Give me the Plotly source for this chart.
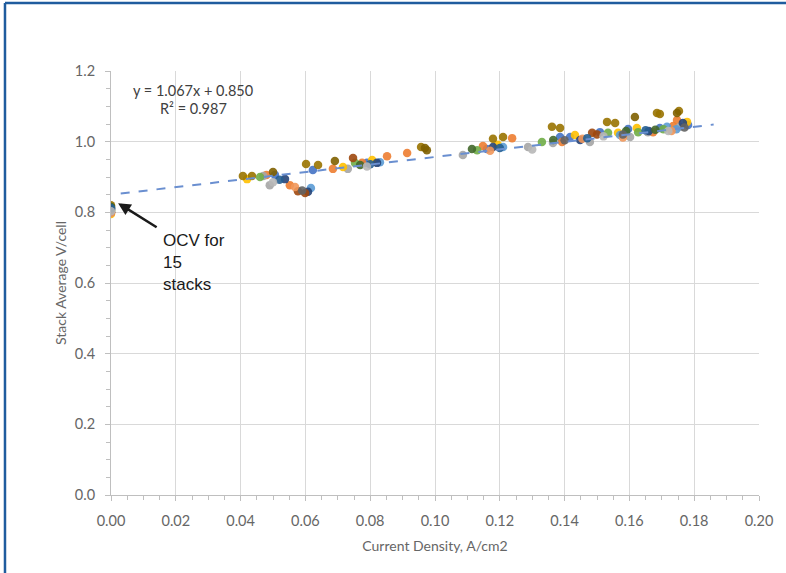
import plotly.graph_objects as go

# ---------------- data ----------------
series_names = [f"Stack {i}" for i in range(1, 16)]
series_colors = ["#4472C4", "#ED7D31", "#A5A5A5", "#FFC000", "#5B9BD5",
                 "#70AD47", "#264478", "#9E480E", "#997300", "#7F6000",
                 "#43682B", "#F1975A", "#636363", "#255E91", "#B7B7B7"]

s1_x = [0.0, 0.0506, 0.0623, 0.079, 0.116, 0.1386, 0.1417, 0.1509, 0.1596, 0.1694, 0.1781]
s1_y = [0.810, 0.906, 0.920, 0.940, 0.979, 1.013, 1.013, 1.027, 1.036, 1.039, 1.047]
s2_x = [0.0, 0.048, 0.0552, 0.0685, 0.0775, 0.0852, 0.0914, 0.1148, 0.1238, 0.1392, 0.1673, 0.1735, 0.1747]
s2_y = [0.800, 0.906, 0.877, 0.923, 0.940, 0.959, 0.968, 0.988, 1.010, 0.999, 1.027, 1.044, 1.061]
s3_x = [0.0, 0.047, 0.049, 0.0731, 0.1086, 0.1287, 0.1364, 0.1478, 0.1602, 0.1657, 0.1756]
s3_y = [0.805, 0.903, 0.877, 0.923, 0.962, 0.985, 0.996, 0.999, 1.013, 1.027, 1.042]
s4_x = [0.0, 0.042, 0.0716, 0.0806, 0.1194, 0.1432, 0.1565, 0.1623, 0.1778]
s4_y = [0.795, 0.894, 0.928, 0.948, 0.991, 1.019, 1.025, 1.039, 1.056]
s5_x = [0.0, 0.0617, 0.083, 0.121, 0.1571, 0.1716, 0.1745]
s5_y = [0.800, 0.869, 0.942, 0.985, 1.019, 1.042, 1.035]
s6_x = [0.0, 0.046, 0.0753, 0.113, 0.133, 0.1534, 0.1627, 0.1705]
s6_y = [0.805, 0.900, 0.940, 0.976, 0.999, 1.025, 1.027, 1.035]
s7_x = [0.0, 0.0537, 0.0608, 0.0821, 0.1179, 0.1448, 0.1765, 0.1660]
s7_y = [0.810, 0.894, 0.858, 0.940, 0.985, 1.005, 1.053, 1.030]
s8_x = [0.0, 0.0577, 0.0599, 0.0747, 0.1485, 0.1500]
s8_y = [0.800, 0.860, 0.855, 0.954, 1.025, 1.020]
s9_x = [0.0, 0.0407, 0.0435, 0.0602, 0.0639, 0.0957, 0.1179, 0.121, 0.1361, 0.1386, 0.1531, 0.1556, 0.1685, 0.1694, 0.1753]
s9_y = [0.820, 0.903, 0.903, 0.937, 0.934, 0.985, 1.008, 1.013, 1.042, 1.039, 1.056, 1.053, 1.081, 1.078, 1.087]
s10_x = [0.0, 0.050, 0.0691, 0.0969, 0.0975, 0.1617, 0.1747]
s10_y = [0.815, 0.914, 0.945, 0.982, 0.976, 1.070, 1.081]
s11_x = [0.0, 0.0769, 0.1114, 0.1365, 0.1590, 0.1680]
s11_y = [0.815, 0.934, 0.979, 1.005, 1.030, 1.034]
s12_x = [0.0, 0.0568, 0.117, 0.1455, 0.1580, 0.1730]
s12_y = [0.798, 0.872, 0.974, 1.008, 1.012, 1.030]
s13_x = [0.0, 0.0590, 0.1400, 0.1580, 0.1770]
s13_y = [0.808, 0.862, 1.004, 1.020, 1.040]
s14_x = [0.0, 0.0520, 0.0800, 0.1200, 0.1470, 0.1650]
s14_y = [0.812, 0.892, 0.936, 0.982, 1.010, 1.032]
s15_x = [0.0, 0.0500, 0.0790, 0.1300, 0.1520, 0.1720]
s15_y = [0.803, 0.885, 0.930, 0.978, 1.015, 1.030]

series_x = [s1_x, s2_x, s3_x, s4_x, s5_x, s6_x, s7_x, s8_x, s9_x, s10_x, s11_x, s12_x, s13_x, s14_x, s15_x]
series_y = [s1_y, s2_y, s3_y, s4_y, s5_y, s6_y, s7_y, s8_y, s9_y, s10_y, s11_y, s12_y, s13_y, s14_y, s15_y]

trend_slope = 1.067
trend_intercept = 0.850
trend_r2 = 0.987
trend_x = [0.003, 0.186]
trend_y = [trend_slope * v + trend_intercept for v in trend_x]

x_ticks = [0.00, 0.02, 0.04, 0.06, 0.08, 0.10, 0.12, 0.14, 0.16, 0.18, 0.20]
y_ticks = [0.0, 0.2, 0.4, 0.6, 0.8, 1.0, 1.2]

# ---------------- figure ----------------
fig = go.Figure()
for name, color, xs, ys in zip(series_names, series_colors, series_x, series_y):
    fig.add_trace(go.Scatter(x=xs, y=ys, mode="markers", name=name,
                             marker=dict(color=color, size=8.5, opacity=0.9,
                                         line=dict(width=0))))

fig.add_trace(go.Scatter(x=trend_x, y=trend_y, mode="lines", name="Linear",
                         line=dict(color="#6A8FD0", width=2, dash="dash")))

FAM = "Lato, Carlito, 'Open Sans', sans-serif"
tick_font = dict(family=FAM, size=14.5, color="#666666")
title_font = dict(family=FAM, size=14, color="#666666")

fig.update_layout(
    width=786, height=573,
    margin=dict(l=111, r=27, t=71, b=78),
    paper_bgcolor="white", plot_bgcolor="white",
    showlegend=False,
    xaxis=dict(range=[0, 0.2], tickvals=x_ticks, ticktext=[f"{v:.2f}" for v in x_ticks],
               showgrid=True, gridcolor="#D9D9D9", gridwidth=1,
               showline=True, linecolor="#BFBFBF", linewidth=1,
               ticks="outside", ticklen=5, tickcolor="#BFBFBF",
               minor=dict(dtick=0.005, ticks="outside", ticklen=4, tickcolor="#BFBFBF", showgrid=False),
               tickfont=tick_font, zeroline=False, ticklabelstandoff=8,
               title=dict(text="Current Density, A/cm2", font=title_font, standoff=12)),
    yaxis=dict(range=[0, 1.2], tickvals=y_ticks, ticktext=[f"{v:.1f}" for v in y_ticks],
               showgrid=True, gridcolor="#D9D9D9", gridwidth=1,
               showline=True, linecolor="#BFBFBF", linewidth=1,
               ticks="outside", ticklen=5, tickcolor="#BFBFBF",
               minor=dict(dtick=0.05, ticks="outside", ticklen=4, tickcolor="#BFBFBF", showgrid=False),
               tickfont=tick_font, zeroline=False, ticklabelstandoff=7,
               title=dict(text="Stack Average V/cell", font=title_font, standoff=4)),
)

# outer border (top and left edges)
fig.add_shape(type="line", xref="paper", yref="paper",
              x0=-0.1636, x1=1.05, y0=1.1604, y1=1.1604,
              line=dict(color="#1F5C9E", width=2.5))
fig.add_shape(type="line", xref="paper", yref="paper",
              x0=-0.1636, x1=-0.1636, y0=1.1604, y1=-0.2,
              line=dict(color="#1F5C9E", width=2.5))

# equation annotations
eq_font = dict(family=FAM, size=14.5, color="#404040")
fig.add_annotation(x=0.0253, y=1.146, xref="x", yref="y",
                   text=f"y = {trend_slope:.3f}x + {trend_intercept:.3f}",
                   showarrow=False, font=eq_font)
fig.add_annotation(x=0.0255, y=1.093, xref="x", yref="y", text=f"R² = {trend_r2:.3f}",
                   showarrow=False, font=eq_font)

# OCV annotation
fig.add_annotation(x=(161 - 111) / 3240, y=(495 - 229) / 353.3, xref="x", yref="y",
                   text="OCV for<br>15<br>stacks", showarrow=False, align="left",
                   xanchor="left", yanchor="top",
                   font=dict(family="Liberation Sans, Arial, sans-serif", size=17, color="#1A1A1A"))
fig.add_annotation(x=0.0022, y=0.826, xref="x", yref="y", text="",
                   showarrow=True, ax=40, ay=25, arrowhead=2, arrowsize=1,
                   arrowwidth=2.5, arrowcolor="#1A1A1A")

fig.write_html("out.html", config={"displayModeBar": False},
               post_script="document.body.style.margin='0';document.body.style.padding='0';document.documentElement.style.overflow='hidden';")
